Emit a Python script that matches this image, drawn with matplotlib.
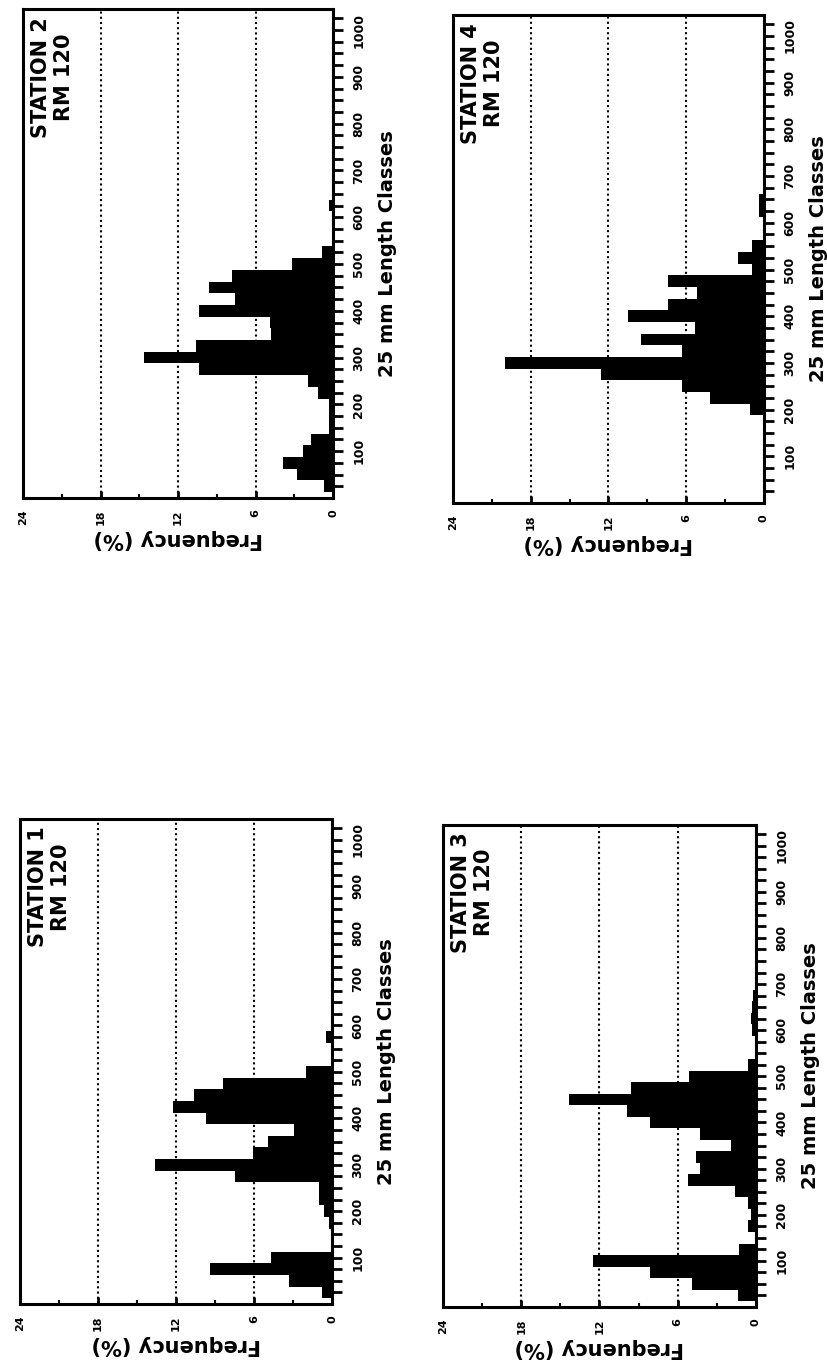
# -------------------------------------------------------------
# Imports
# -------------------------------------------------------------
import matplotlib.pyplot as plt

plt.rcParams['font.family'] = ['DejaVu Sans']
plt.rcParams['font.weight'] = 'bold'
plt.rcParams['axes.labelweight'] = 'bold'

# -------------------------------------------------------------
# Data (25 mm length classes, frequency in %)
# -------------------------------------------------------------
length_classes = [25, 50, 75, 100, 125, 150, 175, 200, 225, 250, 275, 300, 325, 350,
                  375, 400, 425, 450, 475, 500, 525, 550, 575, 600, 625, 650, 675, 700]

station_1 = [0.8, 3.3, 9.4, 4.7, 0.1, 0.1, 0.25, 0.6, 1.0, 1.0, 7.5, 13.6, 6.1, 4.9,
             2.9, 9.7, 12.2, 10.6, 8.4, 2.0, 0, 0, 0.5, 0, 0, 0, 0, 0]
station_2 = [0.7, 2.8, 3.9, 2.3, 1.7, 0.35, 0.35, 0.35, 1.2, 1.9, 10.4, 14.6, 10.6, 4.8,
             4.9, 10.4, 7.6, 9.6, 7.8, 3.2, 0.85, 0, 0, 0, 0.3, 0, 0, 0]
station_3 = [1.4, 4.9, 8.1, 12.5, 1.3, 0.1, 0.6, 0.35, 0.6, 1.6, 5.2, 4.3, 4.6, 1.9,
             4.3, 8.1, 9.9, 14.3, 9.6, 5.1, 0.6, 0, 0, 0.3, 0.4, 0.3, 0.2, 0]
station_4 = [0, 0, 0, 0, 0, 0, 0, 1.1, 4.2, 6.3, 12.6, 20.0, 6.3, 9.5,
             5.3, 10.5, 7.4, 5.2, 7.4, 0.9, 2.0, 0.9, 0, 0, 0.35, 0.35, 0, 0]

station_names = ["STATION 1\nRM 120", "STATION 2\nRM 120",
                 "STATION 3\nRM 120", "STATION 4\nRM 120"]

freq_ticks = [0, 6, 12, 18, 24]
freq_minor = [3, 9, 15, 21]
length_ticks = [100, 200, 300, 400, 500, 600, 700, 800, 900, 1000]

# -------------------------------------------------------------
# Helper
# -------------------------------------------------------------

def draw_station(ax, freqs, name):
    """Draws one rotated length-frequency histogram panel."""
    ax.set_axisbelow(True)
    ax.barh(length_classes, freqs, height=25, color='black', linewidth=0)

    ax.set_xlim(24, 0)
    ax.set_ylim(0, 1045)

    # length axis on the right (reads bottom to top)
    ax.yaxis.tick_right()
    ax.yaxis.set_label_position('right')
    ax.set_yticks(length_ticks)
    ax.set_yticks([v for v in range(25, 1050, 25) if v % 100], minor=True)
    ax.tick_params(axis='y', which='both', direction='out', length=7, width=2,
                   pad=7, labelsize=9, labelrotation=90)
    for lbl in ax.get_yticklabels():
        lbl.set_va('center')
    ax.set_ylabel("25 mm Length Classes", fontsize=14, fontweight='bold', labelpad=9)

    # frequency axis at the bottom, 0 on the right
    ax.set_xticks(freq_ticks)
    ax.set_xticks(freq_minor, minor=True)
    ax.tick_params(axis='x', which='major', direction='in', length=5, width=2,
                   pad=8, labelsize=8, labelrotation=90)
    ax.tick_params(axis='x', which='minor', direction='in', length=3, width=1.5)
    ax.set_xlabel("Frequency (%)", fontsize=15, fontweight='bold', rotation=180,
                  labelpad=3)

    ax.grid(axis='x', which='major', color='black', linestyle=(0, (1, 1.5)),
            linewidth=1.5)

    for s in ax.spines.values():
        s.set_linewidth(2.2)

    ax.text(0.095, 0.86, name, transform=ax.transAxes, rotation=90,
            ha='center', va='center', multialignment='center',
            fontsize=15, fontweight='bold', linespacing=1.2)


# -------------------------------------------------------------
# Figure
# -------------------------------------------------------------
fig = plt.figure(figsize=(8.28, 13.61), dpi=100)

ax2 = fig.add_axes([0.0278, 0.6341, 0.3744, 0.3593])
ax4 = fig.add_axes([0.5471, 0.6304, 0.3756, 0.3586])
ax1 = fig.add_axes([0.0242, 0.0419, 0.3768, 0.3564])
ax3 = fig.add_axes([0.5350, 0.0397, 0.3780, 0.3542])

draw_station(ax1, station_1, station_names[0])
draw_station(ax2, station_2, station_names[1])
draw_station(ax3, station_3, station_names[2])
draw_station(ax4, station_4, station_names[3])

fig.savefig("out.png", dpi=100)
